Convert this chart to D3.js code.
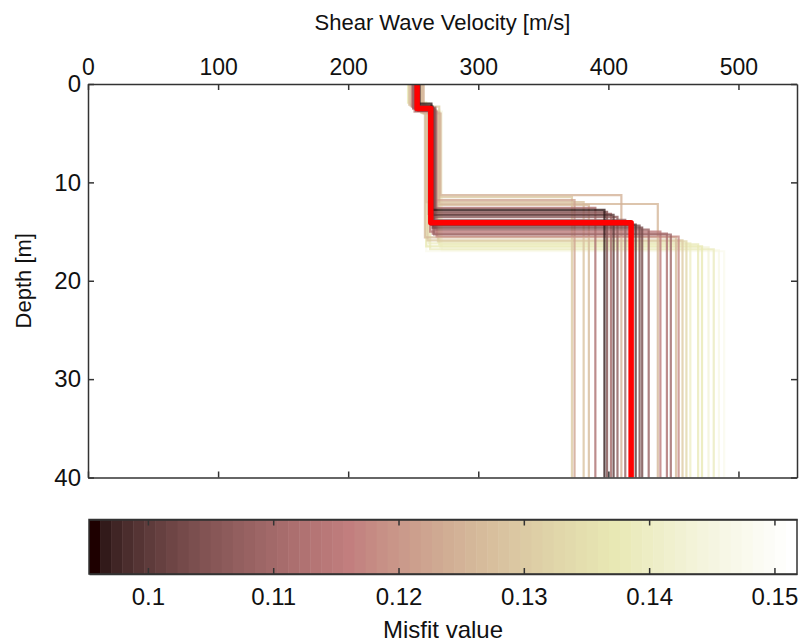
<!DOCTYPE html>
<html>
<head>
<meta charset="utf-8">
<script src="https://cdn.jsdelivr.net/npm/d3@7"></script>
<style>
  body { margin: 0; background: #fff; }
  svg { display: block; font-family: "Liberation Sans", Arial, sans-serif; }
</style>
</head>
<body>
<svg id="svg" width="804" height="644"></svg>
<script>
// one entry per inverted model: misfit, layer velocities and interface depths
const misfit = [0.130, 0.122, 0.128, 0.127, 0.112, 0.097, 0.105, 0.110, 0.100, 0.106, 0.125, 0.108,
  0.099, 0.104, 0.103, 0.108, 0.126, 0.115, 0.112, 0.109, 0.127, 0.118, 0.130, 0.133, 0.140, 0.138,
  0.137, 0.143, 0.139, 0.146, 0.148, 0.151]
const vs1 = [250, 252, 248, 256, 251, 254, 252, 250, 255, 253, 258, 251,
  253, 252, 254, 250, 257, 249, 252, 253, 247, 251, 249, 256, 248, 255,
  246, 257, 250, 258, 247, 256]
const depth1 = [2.3, 2.6, 2.2, 2.8, 2.4, 2.0, 2.7, 2.5, 2.3, 2.6, 3.0, 2.4,
  2.2, 2.5, 2.7, 2.4, 2.9, 2.3, 2.6, 2.5, 2.1, 2.8, 2.2, 2.9, 2.0, 2.7,
  1.9, 3.0, 2.3, 2.8, 2.1, 2.9]
const vs2 = [270, 266, 260, 268, 265, 264, 266, 262, 265, 267, 271, 263,
  264, 266, 265, 267, 270, 263, 265, 266, 259, 268, 261, 269, 262, 270,
  260, 271, 263, 272, 260, 271]
const depth2 = [11.5, 11.8, 12.0, 12.3, 12.6, 12.8, 13.0, 13.2, 13.3, 13.5, 11.3, 13.8,
  14.3, 14.4, 14.6, 14.8, 12.2, 15.0, 15.2, 15.3, 15.6, 15.5, 15.9, 16.0, 16.2, 16.3,
  16.5, 16.6, 16.8, 16.9, 17.0, 17.1]
const vs3 = [372, 374, 381, 385, 390, 397, 399, 402, 404, 407, 410, 413,
  421, 424, 426, 431, 438, 440, 445, 448, 452, 454, 457, 460, 463, 469,
  472, 477, 481, 485, 489, 494]

// best model (drawn in red)
const best = { vs1: 253, depth1: 2.5, vs2: 263.5, depth2: 14.1, vs3: 417.5 }

const xTicks = [0, 100, 200, 300, 400, 500]
const yTicks = [0, 10, 20, 30, 40]
const cTicks = [0.1, 0.11, 0.12, 0.13, 0.14, 0.15]
const misfitRange = [0.0953, 0.1518]
const maxDepth = 40

// matlab style "pink" colormap
const pinkMap = (m) => {
  const n = Math.floor(3 / 8 * m)
  const out = []
  for (let i = 0; i < m; i++) {
    const g = i / (m - 1)
    const hr = i < n ? (i + 1) / n : 1
    const hg = i < n ? 0 : (i < 2 * n ? (i - n + 1) / n : 1)
    const hb = i < 2 * n ? 0 : (i - 2 * n + 1) / (m - 2 * n)
    const f = v => Math.round(255 * Math.sqrt((2 * g + v) / 3))
    out.push(`rgb(${f(hr)},${f(hg)},${f(hb)})`)
  }
  return out
}
const colours = pinkMap(64)

const svg = d3.select('#svg')
const plot = { left: 88, right: 797, top: 84, bottom: 477.5 }

const xScale = d3.scaleLinear().domain([0, 545]).range([plot.left, plot.right])
const yScale = d3.scaleLinear().domain([0, maxDepth]).range([plot.top, plot.bottom])
const colourScale = d3.scaleQuantize().domain(misfitRange).range(colours)

const models = misfit.map((m, i) => ({
  misfit: m, vs1: vs1[i], depth1: depth1[i], vs2: vs2[i], depth2: depth2[i], vs3: vs3[i]
})).sort((a, b) => b.misfit - a.misfit)

const profile = d => [
  [d.vs1, 0], [d.vs1, d.depth1], [d.vs2, d.depth1],
  [d.vs2, d.depth2], [d.vs3, d.depth2], [d.vs3, maxDepth]
]
const line = d3.line().x(p => xScale(p[0])).y(p => yScale(p[1]))

svg.append('g')
  .selectAll('path')
  .data(models)
  .enter()
  .append('path')
  .attr('d', d => line(profile(d)))
  .attr('fill', 'none')
  .attr('stroke', d => colourScale(d.misfit))
  .attr('stroke-width', 2.2)
  .attr('stroke-opacity', 0.8)

svg.append('path')
  .attr('d', line(profile(best)))
  .attr('fill', 'none')
  .attr('stroke', '#ff0000')
  .attr('stroke-width', 5.5)
  .attr('stroke-linejoin', 'round')

// axes box with inward ticks
const axisColour = '#333'
const styleAxis = size => g => {
  g.select('.domain').attr('stroke', axisColour).attr('stroke-width', 1.5)
  g.selectAll('.tick line').attr('stroke', axisColour).attr('stroke-width', 1.5)
  g.selectAll('.tick text').attr('fill', '#111').style('font-size', size + 'px')
}

svg.append('g')
  .attr('transform', `translate(0, ${plot.top})`)
  .call(d3.axisTop(xScale).tickValues(xTicks).tickSizeInner(-6).tickSizeOuter(0).tickPadding(9))
  .call(styleAxis(23))

svg.append('g')
  .attr('transform', `translate(0, ${plot.bottom})`)
  .call(d3.axisBottom(xScale).tickValues(xTicks).tickSizeInner(-6).tickSizeOuter(0).tickFormat(''))
  .call(styleAxis(23))

svg.append('g')
  .attr('transform', `translate(${plot.left}, 0)`)
  .call(d3.axisLeft(yScale).tickValues(yTicks).tickSizeInner(-6).tickSizeOuter(0).tickPadding(7))
  .call(styleAxis(24))

svg.append('g')
  .attr('transform', `translate(${plot.right}, 0)`)
  .call(d3.axisRight(yScale).tickValues(yTicks).tickSizeInner(-6).tickSizeOuter(0).tickFormat(''))
  .call(styleAxis(23))

svg.append('text')
  .attr('x', (plot.left + plot.right) / 2)
  .attr('y', 30)
  .attr('text-anchor', 'middle')
  .style('font-size', '22px')
  .attr('fill', '#111')
  .text('Shear Wave Velocity [m/s]')

svg.append('text')
  .attr('transform', `translate(31, ${(plot.top + plot.bottom) / 2}) rotate(-90)`)
  .attr('text-anchor', 'middle')
  .style('font-size', '22px')
  .attr('fill', '#111')
  .text('Depth [m]')

// colorbar
const bar = { left: 89, right: 797, top: 519.5, bottom: 574 }
const cScale = d3.scaleLinear().domain(misfitRange).range([bar.left, bar.right])
const steps = colourScale.range().map(c => colourScale.invertExtent(c))

svg.append('g')
  .selectAll('rect')
  .data(steps)
  .enter()
  .append('rect')
  .attr('x', d => cScale(d[0]))
  .attr('y', bar.top)
  .attr('width', d => cScale(d[1]) - cScale(d[0]) + 0.5)
  .attr('height', bar.bottom - bar.top)
  .attr('fill', d => colourScale((d[0] + d[1]) / 2))

svg.append('rect')
  .attr('x', bar.left)
  .attr('y', bar.top)
  .attr('width', bar.right - bar.left)
  .attr('height', bar.bottom - bar.top)
  .attr('fill', 'none')
  .attr('stroke', axisColour)
  .attr('stroke-width', 1.5)

svg.append('g')
  .attr('transform', `translate(0, ${bar.bottom})`)
  .call(d3.axisBottom(cScale).tickValues(cTicks).tickSizeInner(-6).tickSizeOuter(0).tickPadding(14).tickFormat(d3.format('')))
  .call(styleAxis(24))

svg.append('g')
  .attr('transform', `translate(0, ${bar.top})`)
  .call(d3.axisTop(cScale).tickValues(cTicks).tickSizeInner(-6).tickSizeOuter(0).tickFormat(''))
  .call(styleAxis(24))

svg.append('text')
  .attr('x', (bar.left + bar.right) / 2)
  .attr('y', 638)
  .attr('text-anchor', 'middle')
  .style('font-size', '24px')
  .attr('fill', '#111')
  .text('Misfit value')
</script>
</body>
</html>
